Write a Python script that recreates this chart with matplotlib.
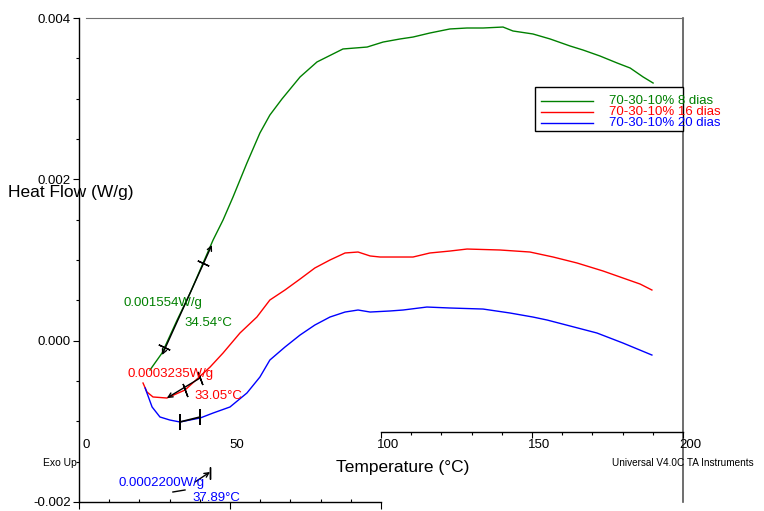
import matplotlib
matplotlib.use("Agg")
import matplotlib.pyplot as plt
import matplotlib.transforms as mtransforms
from matplotlib.patches import Rectangle
from matplotlib.lines import Line2D
from matplotlib.ticker import MultipleLocator, FixedLocator

plt.rcParams["font.family"] = ["Liberation Sans", "DejaVu Sans"]

# temperature (°C) / heat flow (W/g)
green_t = [23.5, 27.5, 32.5, 36.8, 41.1, 44.4, 47.7, 51.0, 55.6, 59.9, 63.2, 67.2,
           73.2, 78.8, 87.4, 95.4, 100.7, 106.3, 110.6, 116.2, 122.8, 128.5, 133.8,
           140.4, 143.7, 150.3, 156.0, 162.6, 166.9, 172.5, 178.2, 182.5, 186.8, 190.1]
green_hf = [-0.000364, -0.000153, 0.000256, 0.000591, 0.000963, 0.001248, 0.001496,
            0.001781, 0.002202, 0.002574, 0.002797, 0.002996, 0.003269, 0.003455,
            0.003616, 0.003640, 0.003702, 0.003740, 0.003764, 0.003814, 0.003864,
            0.003876, 0.003876, 0.003888, 0.003839, 0.003802, 0.003740, 0.003653,
            0.003603, 0.003529, 0.003442, 0.003380, 0.003269, 0.003194]

red_t = [21.2, 22.5, 24.5, 29.1, 35.1, 39.1, 43.4, 47.7, 53.3, 58.9, 63.2, 68.2, 73.2,
         78.1, 83.1, 88.1, 92.4, 96.4, 99.7, 110.6, 116.2, 122.8, 128.5, 139.4, 149.3,
         157.0, 164.9, 173.5, 180.1, 185.8, 189.7]
red_hf = [-0.000525, -0.000636, -0.000698, -0.000711, -0.000612, -0.000475, -0.000327,
          -0.000153, 0.000095, 0.000293, 0.000504, 0.000628, 0.000764, 0.000901,
          0.001000, 0.001087, 0.001099, 0.001050, 0.001037, 0.001037, 0.001087,
          0.001111, 0.001136, 0.001124, 0.001099, 0.001037, 0.000963, 0.000864,
          0.000777, 0.000702, 0.000628]

blue_t = [21.9, 24.2, 26.8, 30.1, 33.4, 40.1, 44.4, 50.0, 55.6, 59.9, 63.2, 68.2, 73.2,
          78.1, 83.1, 88.1, 92.4, 96.4, 103.0, 107.3, 115.2, 122.8, 133.8, 142.7, 150.3,
          155.0, 162.6, 171.5, 180.1, 189.7]
blue_hf = [-0.000587, -0.000822, -0.000946, -0.000984, -0.001008, -0.000959, -0.000897,
           -0.000822, -0.000649, -0.000451, -0.000240, -0.000079, 0.000070, 0.000194,
           0.000293, 0.000355, 0.000380, 0.000355, 0.000368, 0.000380, 0.000417,
           0.000405, 0.000392, 0.000343, 0.000293, 0.000256, 0.000182, 0.000095,
           -0.000029, -0.000178]

labels = ["70-30-10% 8 dias", "70-30-10% 16 dias", "70-30-10% 20 dias"]
colors = ["#008000", "#ff0000", "#0000ff"]
y_ticks = [-0.002, 0.000, 0.002, 0.004]
y_ticklabels = ["-0.002", "0.000", "0.002", "0.004"]
x_ticks = [0, 50, 100, 150, 200]

W, H = 764, 511


def px(x, y):
    return x / W, 1 - y / H


fig = plt.figure(figsize=(W / 100, H / 100), dpi=100)
fig.patch.set_facecolor("white")

ax = fig.add_axes([79 / W, 1 - 502 / H, 604 / W, 484 / H])
ax.set_xlim(0, 200)
ax.set_ylim(-0.002, 0.004)
ax.patch.set_alpha(0)

for t, hf, c in zip([green_t, red_t, blue_t], [green_hf, red_hf, blue_hf], colors):
    ax.plot(t, hf, color=c, lw=1.0)

# spines
ax.spines["left"].set_linewidth(1.0)
ax.spines["top"].set_color("#707070")
ax.spines["top"].set_bounds(2.3, 200)
ax.spines["right"].set_color("#555555")
ax.spines["right"].set_linewidth(1.2)
ax.spines["bottom"].set_bounds(0, 100)
ax.spines["bottom"].set_linewidth(1.0)

ax.yaxis.set_major_locator(FixedLocator(y_ticks))
ax.set_yticklabels(y_ticklabels)
ax.yaxis.set_minor_locator(MultipleLocator(0.0005))
ax.tick_params(axis="y", which="major", direction="out", length=4.3, width=0.8,
               labelsize=9.5, pad=1.5, right=False)
ax.tick_params(axis="y", which="minor", direction="out", length=2.2, width=0.8, right=False)

ax.xaxis.set_major_locator(FixedLocator([0, 50, 100]))
ax.xaxis.set_minor_locator(FixedLocator(list(range(10, 100, 10))))
ax.tick_params(axis="x", which="major", direction="out", length=5, width=0.8,
               labelbottom=False, top=False)
ax.tick_params(axis="x", which="minor", direction="in", length=2.2, width=0.8, top=False)

# upper broken x-axis (100-200)
ax2 = fig.add_axes([79 / W, 1 - 432 / H, 604 / W, 0.01])
ax2.set_xlim(0, 200)
ax2.patch.set_alpha(0)
for s in ["top", "left", "right"]:
    ax2.spines[s].set_visible(False)
ax2.spines["bottom"].set_bounds(100, 200)
ax2.spines["bottom"].set_linewidth(1.0)
ax2.set_yticks([])
ax2.xaxis.set_major_locator(FixedLocator([100, 150, 200]))
ax2.xaxis.set_minor_locator(FixedLocator(list(range(110, 200, 10))))
ax2.tick_params(axis="x", which="major", direction="out", length=4.3, width=0.8, labelbottom=False)
ax2.tick_params(axis="x", which="minor", direction="out", length=2.2, width=0.8)

# x tick labels
blend = mtransforms.blended_transform_factory(ax.transData, fig.transFigure)
lab_tr = mtransforms.offset_copy(blend, fig=fig, x=7, units="dots")
for xt in x_ticks:
    ax.text(xt, 1 - 445 / H, str(xt), transform=lab_tr, ha="center", va="center",
            fontsize=9.5, clip_on=False)

# axis titles and captions
fig.text(*px(8, 192), "Heat Flow (W/g)", fontsize=12.5, ha="left", va="center")
fig.text(*px(403, 467), "Temperature (°C)", fontsize=12.5, ha="center", va="center")
fig.text(*px(43, 463), "Exo Up", fontsize=7.5, ha="left", va="center")
fig.text(*px(612, 463), "Universal V4.0C TA Instruments", fontsize=7.2, ha="left", va="center")

# legend box
x0, y0 = px(535, 131)
x1, y1 = px(683, 87)
fig.patches.append(Rectangle((x0, y0), x1 - x0, y1 - y0, transform=fig.transFigure,
                             facecolor="white", edgecolor="black", lw=1.0, zorder=5))
for i, (lab, c) in enumerate(zip(labels, colors)):
    yy = 101 + i * 11
    la, lb = px(541, yy), px(593, yy)
    fig.add_artist(Line2D([la[0], lb[0]], [la[1], lb[1]], color=c, lw=1.0,
                          transform=fig.transFigure, zorder=6))
    fig.text(*px(609, yy), lab, color=c, fontsize=9.5, ha="left", va="center", zorder=6)

# analysis marks
arrow_kw = dict(color="black", lw=1.0, shrinkA=0, shrinkB=0, mutation_scale=8)
ax.annotate("", xy=(27.5, -0.000178), xytext=(44.0, 0.001186),
            arrowprops=dict(arrowstyle="<->", **arrow_kw))
ax.plot([41.1], [0.000963], marker=(2, 2, 65), color="black", ms=9, mew=1.0)
ax.plot([28.2], [-0.000080], marker=(2, 2, 65), color="black", ms=9, mew=1.0)

ax.annotate("", xy=(29.1, -0.000711), xytext=(40.1, -0.000463),
            arrowprops=dict(arrowstyle="->", **arrow_kw))
ax.plot([35.1, 40.1], [-0.000612, -0.000463], ls="none", marker=(2, 2, 20),
        color="black", ms=10, mew=1.0)

ax.plot([33.4, 40.1], [-0.001008, -0.000946], color="black", lw=1.2,
        marker=(2, 2, 0), ms=11, mew=1.2)

ax.annotate("", xy=(43.4, -0.001628), xytext=(38.4, -0.001752),
            arrowprops=dict(arrowstyle="->", **arrow_kw), annotation_clip=False)
ax.plot([43.4], [-0.001640], marker=(2, 2, 0), color="black", ms=9, mew=1.0, clip_on=False)
ax.plot([31.1, 35.1], [-0.001876, -0.001851], color="black", lw=1.0, clip_on=False)

ax.text(14.9, 0.000467, "0.001554W/g", color=colors[0], fontsize=9.5, va="center")
ax.text(35.0, 0.000219, "34.54°C", color=colors[0], fontsize=9.5, va="center")
ax.text(15.9, -0.000413, "0.0003235W/g", color=colors[1], fontsize=9.5, va="center")
ax.text(38.1, -0.000686, "33.05°C", color=colors[1], fontsize=9.5, va="center")
ax.text(13.2, -0.001765, "0.0002200W/g", color=colors[2], fontsize=9.5, va="center")
ax.text(37.7, -0.001951, "37.89°C", color=colors[2], fontsize=9.5, va="center")

fig.savefig("out.png", dpi=100, facecolor="white")
